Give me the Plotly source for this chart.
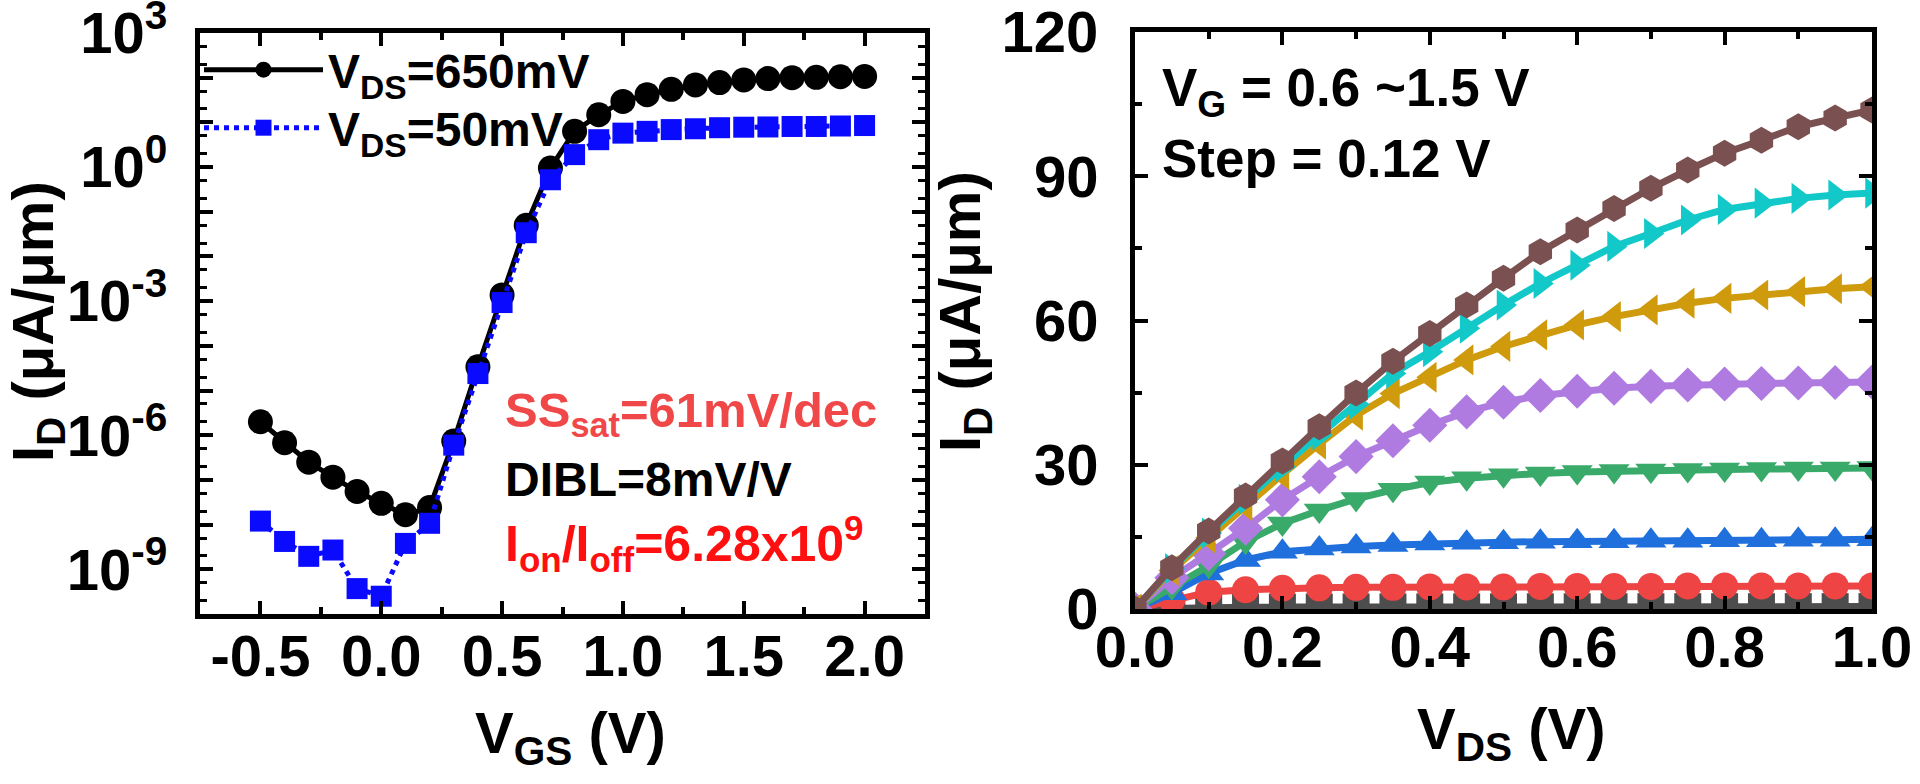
import plotly.graph_objects as go

# ---------------- data ----------------
# Left panel: transfer curves (I_D in uA/um vs V_GS in V)
vgs = [-0.5, -0.4, -0.3, -0.2, -0.1, 0.0, 0.1, 0.2, 0.3, 0.4, 0.5, 0.6, 0.7,
       0.8, 0.9, 1.0, 1.1, 1.2, 1.3, 1.4, 1.5, 1.6, 1.7, 1.8, 1.9, 2.0]
id_650mv = [2.0e-6, 6.8e-7, 2.5e-7, 1.15e-7, 5.5e-8, 3.0e-8, 1.66e-8, 2.4e-8,
            7.4e-7, 3.4e-5, 1.38e-3, 0.050, 0.95, 6.3, 14.8, 29.5, 41.7, 55.0,
            69.0, 77.6, 89.0, 95.5, 100.0, 102.0, 105.0, 107.0]
id_50mv = [1.2e-8, 4.2e-9, 1.95e-9, 2.7e-9, 3.7e-10, 2.5e-10, 3.8e-9, 1.07e-8,
           6.0e-7, 2.4e-5, 9.3e-4, 0.034, 0.52, 1.9, 4.1, 5.75, 6.3, 6.9, 7.2,
           7.6, 7.8, 7.9, 8.1, 8.1, 8.3, 8.5]
legend_names = ["V<sub>DS</sub>=650mV", "V<sub>DS</sub>=50mV"]
left_xtick_vals = [-0.5, 0.0, 0.5, 1.0, 1.5, 2.0]
left_xtick_text = ["-0.5", "0.0", "0.5", "1.0", "1.5", "2.0"]
left_ytick_exps = list(range(-10, 4))
left_ylabel_exps = [3, 0, -3, -6, -9]

# Right panel: output curves (I_D in uA/um vs V_DS in V), V_G = 0.6 ~ 1.5 V
vds = [0.0, 0.05, 0.1, 0.15, 0.2, 0.25, 0.3, 0.35, 0.4, 0.45, 0.5, 0.55, 0.6,
       0.65, 0.7, 0.75, 0.8, 0.85, 0.9, 0.95, 1.0]
id_out = [
    [0, 0.2, 0.3, 0.35, 0.4, 0.4, 0.42, 0.43, 0.44, 0.45, 0.45, 0.46, 0.46,
     0.47, 0.47, 0.48, 0.48, 0.48, 0.49, 0.49, 0.5],
    [0, 1.9, 3.5, 4.0, 4.3, 4.4, 4.5, 4.5, 4.6, 4.6, 4.6, 4.7, 4.7, 4.7, 4.7,
     4.8, 4.8, 4.8, 4.8, 4.8, 4.8],
    [0, 3.3, 7.4, 10.2, 11.9, 12.6, 13.0, 13.3, 13.6, 13.8, 13.9, 14.0, 14.1,
     14.1, 14.2, 14.2, 14.3, 14.3, 14.4, 14.4, 14.5],
    [0, 4.5, 9.0, 14.0, 17.8, 20.5, 22.9, 24.8, 26.3, 27.2, 27.8, 28.2, 28.5,
     28.7, 28.8, 28.9, 29.0, 29.1, 29.2, 29.2, 29.3],
    [0, 6.5, 11.5, 16.8, 22.7, 27.5, 31.7, 35.0, 38.2, 41.0, 43.0, 44.4, 45.3,
     45.9, 46.3, 46.6, 46.8, 46.9, 47.0, 47.1, 47.2],
    [0, 8.0, 14.8, 21.5, 28.0, 34.3, 40.3, 44.8, 48.2, 51.8, 54.6, 57.0, 59.1,
     60.8, 62.2, 63.6, 64.6, 65.3, 66.0, 66.6, 67.0],
    [0, 8.4, 15.8, 22.8, 29.6, 36.2, 42.6, 49.0, 53.5, 58.4, 63.2, 67.7, 71.5,
     75.4, 78.1, 80.9, 83.1, 84.4, 85.4, 86.1, 86.5],
    [0, 8.6, 16.2, 23.5, 30.8, 37.9, 44.9, 51.5, 57.3, 63.2, 68.8, 74.3, 78.8,
     83.3, 87.5, 91.3, 94.8, 97.5, 100.3, 102.1, 103.8],
]
out_colors = ["#4d4d4d", "#ee4444", "#1f6fdc", "#3aaa6a", "#b07be0",
              "#cf9b0c", "#12c8c8", "#7b5050"]
out_symbols = ["square", "circle", "triangle-up", "triangle-down", "diamond",
               "triangle-left", "triangle-right", "hexagon"]
right_xtick_vals = [0.0, 0.2, 0.4, 0.6, 0.8, 1.0]
right_xtick_text = ["0.0", "0.2", "0.4", "0.6", "0.8", "1.0"]
right_ytick_vals = [0, 30, 60, 90, 120]

# ---------------- figure ----------------
FONT = "Liberation Sans, Arial, sans-serif"
W, H = 1920, 784

fig = go.Figure()

fig.add_trace(go.Scatter(
    x=vgs, y=id_650mv, mode="lines+markers", name=legend_names[0],
    line=dict(color="black", width=5),
    marker=dict(symbol="circle", size=25, color="black"),
    xaxis="x", yaxis="y", legend="legend"))
fig.add_trace(go.Scatter(
    x=vgs, y=id_50mv, mode="lines+markers", name=legend_names[1],
    line=dict(color="#0a0aff", width=5, dash="dot"),
    marker=dict(symbol="square", size=21, color="#0a0aff"),
    xaxis="x", yaxis="y", legend="legend2"))

for ys, c, s in zip(id_out, out_colors, out_symbols):
    fig.add_trace(go.Scatter(
        x=vds, y=ys, mode="lines+markers", showlegend=False,
        line=dict(color=c, width=7),
        marker=dict(symbol=s, size=27, color=c, line=dict(width=0)),
        xaxis="x2", yaxis="y2"))

tickfont = dict(family=FONT, size=58, color="black", weight="bold")
common = dict(showline=True, linewidth=5, linecolor="black", mirror="ticks",
              ticks="inside", ticklen=13, tickwidth=4, tickcolor="black",
              showgrid=False, zeroline=False, tickfont=tickfont,
              ticklabeloverflow="allow", automargin=False)

ytickvals = [10.0 ** k for k in left_ytick_exps]
yticktext = [("10<sup>%d</sup>" % k) if k in left_ylabel_exps else ""
             for k in left_ytick_exps]
yminor = [m * 10.0 ** k for k in left_ytick_exps[:-1] for m in (2, 5)]

legend_font = dict(family=FONT, size=48, color="black", weight="bold")

fig.update_layout(
    width=W, height=H, autosize=False,
    margin=dict(l=0, r=0, t=0, b=0, autoexpand=False),
    paper_bgcolor="white", plot_bgcolor="white",
    font=dict(family=FONT, color="black", weight="bold"),
    xaxis=dict(domain=[200 / W, 925 / W], range=[-0.75, 2.25],
               tickmode="array", tickvals=left_xtick_vals,
               ticktext=left_xtick_text,
               minor=dict(ticks="inside", dtick=0.25, tick0=-0.75,
                          ticklen=7, tickwidth=4, tickcolor="black"),
               ticklabelstandoff=-13, anchor="y", **common),
    yaxis=dict(domain=[1 - 614 / H, 1 - 33 / H], type="log", range=[-10, 3],
               tickmode="array", tickvals=ytickvals, ticktext=yticktext,
               minor=dict(ticks="inside", tickmode="array", tickvals=yminor,
                          ticklen=7, tickwidth=3, tickcolor="black"),
               ticklabelstandoff=16, anchor="x", **common),
    xaxis2=dict(domain=[1135 / W, 1872 / W], range=[0, 1],
                tickmode="array", tickvals=right_xtick_vals,
                ticktext=right_xtick_text,
                minor=dict(ticks="inside", dtick=0.1, tick0=0, ticklen=7,
                           tickwidth=4, tickcolor="black"),
                ticklabelstandoff=-17, anchor="y2", **common),
    yaxis2=dict(domain=[1 - 609 / H, 1 - 32 / H], range=[0, 120],
                tickmode="array", tickvals=right_ytick_vals,
                minor=dict(ticks="inside", dtick=15, tick0=0, ticklen=7,
                           tickwidth=4, tickcolor="black"),
                ticklabelstandoff=20, anchor="x2", **common),
    legend=dict(x=199 / W, y=1 - 70 / H, xanchor="left", yanchor="middle",
                bgcolor="rgba(0,0,0,0)", borderwidth=0, itemwidth=119,
                font=legend_font),
    legend2=dict(x=199 / W, y=1 - 128 / H, xanchor="left", yanchor="middle",
                 bgcolor="rgba(0,0,0,0)", borderwidth=0, itemwidth=119,
                 font=legend_font),
)

def ann(text, x, y, size, color="black", xanchor="left", yanchor="middle",
        angle=0):
    fig.add_annotation(text=text, x=x / W, y=1 - y / H, xref="paper",
                       yref="paper", showarrow=False, xanchor=xanchor,
                       yanchor=yanchor, textangle=angle,
                       font=dict(family=FONT, size=size, color=color,
                                 weight="bold"))

# axis titles
ann("V<sub>GS</sub> (V)", 570, 737, 58, xanchor="center")
ann("V<sub>DS</sub> (V)", 1511, 733, 58, xanchor="center")
ann("I<sub>D</sub> (\u03bcA/\u03bcm)", 37, 322, 58, xanchor="center",
    angle=-90)
ann("I<sub>D</sub> (\u03bcA/\u03bcm)", 964, 312, 58, xanchor="center",
    angle=-90)

# left panel notes
ann("SS<sub>sat</sub>=61mV/dec", 503, 414, 49, color="#f04848")
ann("DIBL=8mV/V", 503, 479, 48, color="black")
ann("I<sub>on</sub>/I<sub>off</sub>=6.28x10<sup>9</sup>", 503, 543, 50,
    color="#ff1010")

# right panel notes
ann("V<sub>G</sub> = 0.6 ~1.5 V", 1160, 91, 53)
ann("Step = 0.12 V", 1160, 159, 53)

fig.write_html("out.html",
               config={"displayModeBar": False},
               post_script="document.body.style.margin='0px';")
